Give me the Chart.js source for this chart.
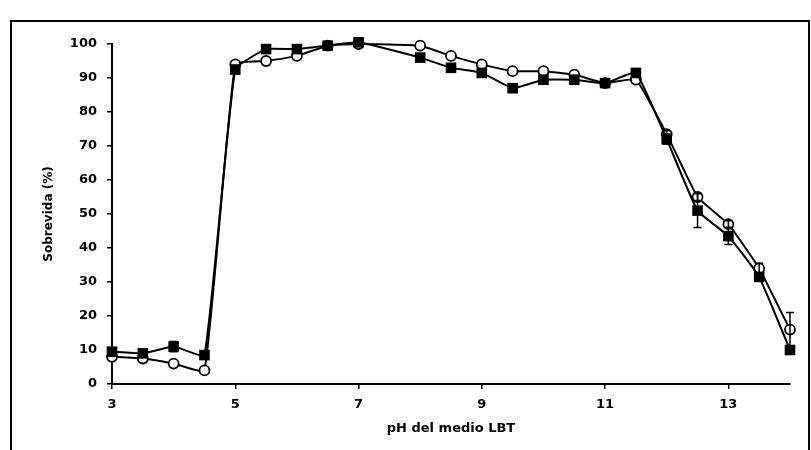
<!DOCTYPE html>
<html>
<head>
<meta charset="utf-8">
<script src="https://cdn.jsdelivr.net/npm/chart.js@4"></script>
<style>
  html, body { margin: 0; padding: 0; background: #fff; }
  #wrap { position: relative; width: 811px; height: 450px; }
  #frame { position: absolute; left: 10px; top: 20px; width: 800px; height: 450px;
           border-left: 2px solid #000; border-top: 2px solid #000; border-right: 2px solid #000; box-sizing: border-box; }
</style>
</head>
<body>
<div id="wrap">
  <div id="frame"></div>
  <canvas id="chart" width="811" height="450"></canvas>
</div>
<script>
const phValues = [3, 3.5, 4, 4.5, 5, 5.5, 6, 6.5, 7, 8, 8.5, 9, 9.5, 10, 10.5, 11, 11.5, 12, 12.5, 13, 13.5, 14];
const squareValues = [9.5, 9, 11, 8.5, 92.5, 98.5, 98.5, 99.5, 100.5, 96, 93, 91.5, 87, 89.5, 89.5, 88.5, 91.5, 72, 51, 43.5, 31.5, 10];
const circleValues = [8, 7.5, 6, 4, 94, 95, 96.5, 99.5, 100, 99.5, 96.5, 94, 92, 92, 91, 88.5, 89.5, 73.5, 55, 47, 34, 16];
const squareErrors = [0, 0, 1.5, 0, 0, 0, 0, 0, 0, 0, 0, 0, 0, 0, 0, 0, 0, 1.5, 5, 2.5, 1, 0];
const circleErrors = [0, 0, 0, 0, 0, 0, 0, 0, 0, 0, 0, 0, 0, 0, 0, 0, 0, 1, 1, 1, 1.5, 5];
const xTickLabels = [3, 5, 7, 9, 11, 13];
const yTickLabels = [0, 10, 20, 30, 40, 50, 60, 70, 80, 90, 100];

const toPoints = (ys) => phValues.map((x, i) => ({ x: x, y: ys[i] }));

// error bars drawn through the scales
const errorBars = {
    id: 'errorBars',
    afterDatasetsDraw(chart) {
        const ctx = chart.ctx;
        const xs = chart.scales.x, ys = chart.scales.y;
        [squareErrors, circleErrors].forEach((errs, d) => {
            const vals = d === 0 ? squareValues : circleValues;
            errs.forEach((e, i) => {
                if (!e) return;
                const px = xs.getPixelForValue(phValues[i]);
                const lo = ys.getPixelForValue(vals[i] - e);
                const hi = ys.getPixelForValue(vals[i] + e);
                ctx.save();
                ctx.strokeStyle = '#000';
                ctx.lineWidth = 1.5;
                ctx.beginPath();
                ctx.moveTo(px, lo); ctx.lineTo(px, hi);
                ctx.moveTo(px - 4, lo); ctx.lineTo(px + 4, lo);
                ctx.moveTo(px - 4, hi); ctx.lineTo(px + 4, hi);
                ctx.stroke();
                ctx.restore();
            });
        });
    }
};

const font = { family: 'DejaVu Sans', size: 13, weight: 'bold' };

new Chart(document.getElementById('chart').getContext('2d'), {
    type: 'line',
    data: {
        datasets: [{
            label: 'square',
            data: toPoints(squareValues),
            borderColor: '#000',
            borderWidth: 2,
            backgroundColor: '#000',
            pointStyle: 'rect',
            pointRadius: 7.5,
            pointBorderWidth: 0,
            tension: 0.12,
            clip: false
        }, {
            label: 'circle',
            data: toPoints(circleValues),
            borderColor: '#000',
            borderWidth: 2,
            pointBackgroundColor: '#fff',
            pointBorderColor: '#000',
            pointBorderWidth: 1.8,
            pointStyle: 'circle',
            pointRadius: 5,
            tension: 0.12,
            clip: false
        }]
    },
    options: {
        responsive: false,
        animation: false,
        layout: { padding: { left: 0, top: 44, right: 21, bottom: 0 } },
        plugins: { legend: { display: false }, tooltip: { enabled: false } },
        scales: {
            x: {
                type: 'linear',
                min: 3,
                max: 14,
                afterBuildTicks: (s) => { s.ticks = xTickLabels.map(v => ({ value: v })); },
                afterFit: (s) => { s.height = 66; },
                grid: { drawOnChartArea: false, color: '#000', tickLength: 5, lineWidth: 1.5 },
                border: { color: '#000', width: 2 },
                ticks: { color: '#000', font: font, padding: 8, maxRotation: 0 },
                title: { display: true, text: 'pH del medio LBT', color: '#000', font: font, padding: { top: 0, bottom: 14 } }
            },
            y: {
                min: 0,
                max: 100,
                afterBuildTicks: (s) => { s.ticks = yTickLabels.map(v => ({ value: v })); },
                afterFit: (s) => { s.width = 112; },
                grid: { drawOnChartArea: false, color: '#000', tickLength: 5, lineWidth: 1.5 },
                border: { color: '#000', width: 2 },
                ticks: { color: '#000', font: font, padding: 10 },
                title: { display: true, text: 'Sobrevida (%)', color: '#000', font: { family: 'DejaVu Sans', size: 12, weight: 'bold' }, padding: { top: 42, bottom: 0 } }
            }
        }
    },
    plugins: [errorBars]
});
</script>
</body>
</html>
